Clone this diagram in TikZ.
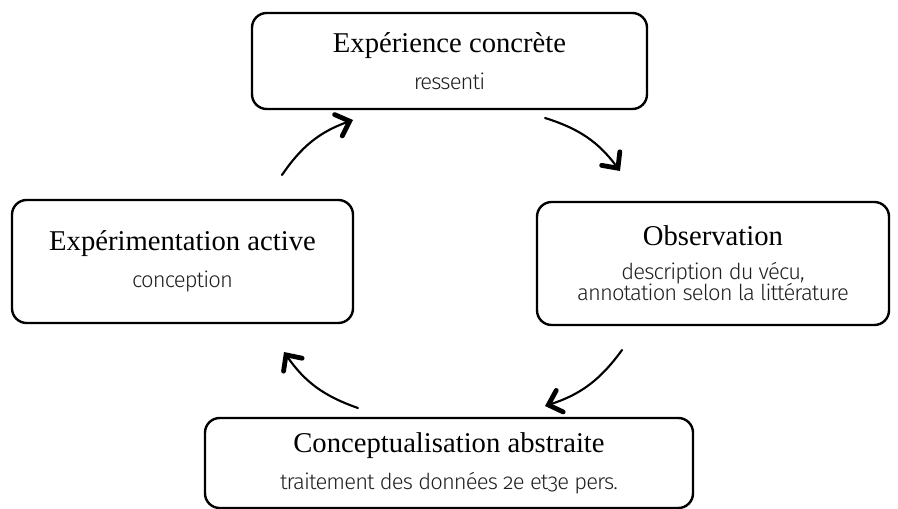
\documentclass[tikz,border=0pt]{standalone}
\usepackage{fontspec}
\setmainfont{Liberation Serif}
\newfontfamily\subfont{Fira Sans Light}[Numbers=OldStyle, LetterSpace=-4]
\usetikzlibrary{arrows.meta}

\tikzset{
  phase/.style={draw=black, line width=1.8pt, rounded corners=11pt, align=center,
    inner sep=0pt, font=\fontsize{21.5}{24}\selectfont},
  cycarrow/.style={line width=1.6pt, line cap=round,
    -{Straight Barb[length=9pt, width=17pt, line width=3.6pt, line cap=round]}}
}
\newcommand{\phasesub}[1]{{\subfont\color{black!88}\fontsize{16.5}{19}\selectfont #1}}

\begin{document}
\begin{tikzpicture}[x=0.75pt, y=-0.75pt]
\useasboundingbox (0,0) rectangle (898,509);

\node[phase, minimum width=395*0.75pt, minimum height=96*0.75pt] (exp) at (449.5,61)
  {Expérience concrète\\[4pt]\phasesub{ressenti}};
\node[phase, minimum width=352*0.75pt, minimum height=123*0.75pt] (obs) at (713,263.5)
  {Observation\\[1pt]\phasesub{description du vécu,}\\[-8pt]\phasesub{annotation selon la littérature}};
\node[phase, minimum width=488*0.75pt, minimum height=90*0.75pt] (conc) at (449,463)
  {Conceptualisation abstraite\\[4pt]\phasesub{traitement des données 2e et3e pers.}};
\node[phase, minimum width=341*0.75pt, minimum height=123*0.75pt] (act) at (182.5,261.5)
  {Expérimentation active\\[4pt]\phasesub{conception}};

% fleches du cycle
\coordinate (a1) at (282,175);  \coordinate (b1) at (353,120);
\coordinate (a2) at (545,118);  \coordinate (b2) at (620,171);
\coordinate (a3) at (622,350);  \coordinate (b3) at (545,406);
\coordinate (a4) at (358,408);  \coordinate (b4) at (284,352);
\draw[cycarrow] (a1) to[bend left=18] (b1);
\draw[cycarrow] (a2) to[bend left=18] (b2);
\draw[cycarrow] (a3) to[bend left=18] (b3);
\draw[cycarrow] (a4) to[bend left=18] (b4);
\end{tikzpicture}
\end{document}
